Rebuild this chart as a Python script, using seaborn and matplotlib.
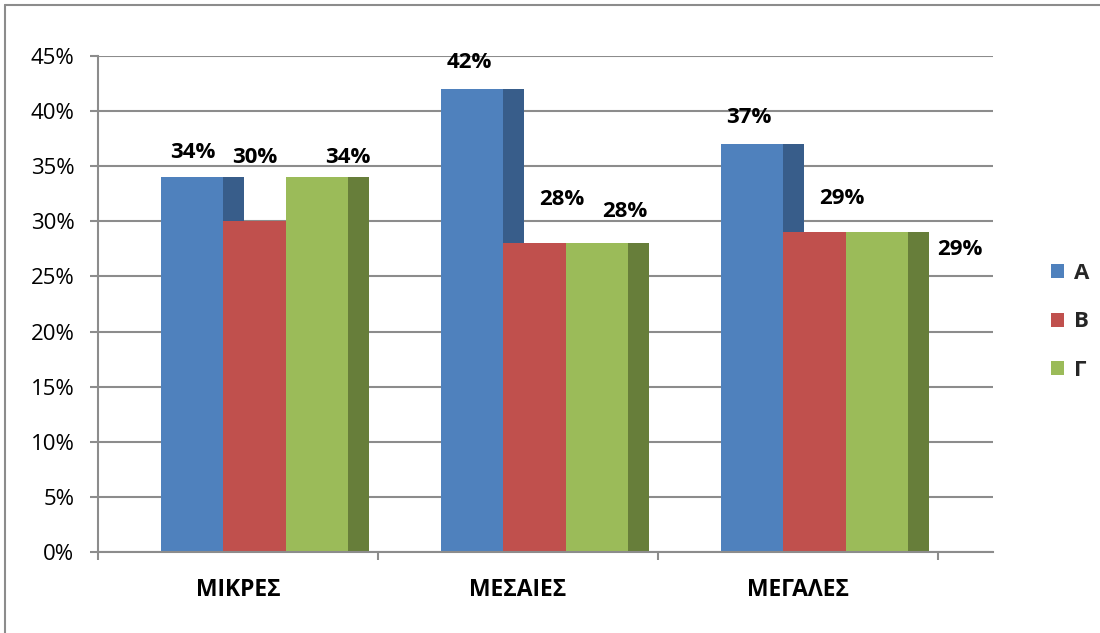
import matplotlib
matplotlib.use("Agg")
import matplotlib.pyplot as plt
from matplotlib.patches import Rectangle
from matplotlib.lines import Line2D
import numpy as np
import pandas as pd
import seaborn as sns

# ---- data -------------------------------------------------------------
categories = ["ΜΙΚΡΕΣ", "ΜΕΣΑΙΕΣ", "ΜΕΓΑΛΕΣ"]
series = ["Α", "Β", "Γ"]
values_a = [34, 42, 37]
values_b = [30, 28, 29]
values_g = [34, 28, 29]
y_ticks = [0, 5, 10, 15, 20, 25, 30, 35, 40, 45]

# ---- styling ----------------------------------------------------------
front_colors = ["#4F81BD", "#C0504D", "#9BBB59"]
side_colors = ["#385D8A", "#8C3836", "#677E3A"]
grid_grey = "#8C8C8C"

# label offsets (pixels) from the top-centre of each bar, per series
label_dx = [[1, -3, -3], [0, 27, 27], [31, 28, 83]]
label_dy = [[25, 27, 27], [64, 44, 34], [20, 32, -17]]

sns.set_theme(style="white")
plt.rcParams["font.family"] = ["Open Sans", "DejaVu Sans"]

df = pd.DataFrame({
    "size": categories * 3,
    "group": [series[0]] * 3 + [series[1]] * 3 + [series[2]] * 3,
    "pct": values_a + values_b + values_g,
})

W, H, DPI = 1100, 633, 100
fig = plt.figure(figsize=(W / DPI, H / DPI), dpi=DPI)
ax = fig.add_axes([98 / W, 81 / H, (993 - 98) / W, (552 - 56) / H])

bar_width = 0.668
depth = 0.075

sns.barplot(data=df, x="size", y="pct", hue="group", hue_order=series,
            order=categories, palette=front_colors, width=bar_width,
            saturation=1, linewidth=0, ax=ax, zorder=3)

# darker side faces behind each bar's front
for k, cont in enumerate(ax.containers):
    for bar in cont:
        x0 = bar.get_x() + bar.get_width()
        ax.add_patch(Rectangle((x0, 0), depth, bar.get_height(),
                               facecolor=side_colors[k], edgecolor="none",
                               zorder=2))

# value labels
for k, cont in enumerate(ax.containers):
    for j, bar in enumerate(cont):
        v = bar.get_height()
        ax.annotate(f"{v:.0f}%",
                    (bar.get_x() + bar.get_width() / 2, v),
                    xytext=(label_dx[k][j], label_dy[k][j]),
                    textcoords="offset pixels", ha="center", va="center",
                    fontsize=16, fontweight="bold", color="black",
                    annotation_clip=False, zorder=5)

# axes limits / ticks
shift = 0.059
ax.set_xlim(-0.5 - shift, 2.6375)
ax.set_ylim(0, 45)
ax.set_yticks(y_ticks)
ax.set_yticklabels([f"{t}%" for t in y_ticks])

bounds = [i - 0.5 - shift for i in range(len(categories) + 1)]
ax.set_xticks(bounds)
ax.set_xticklabels([""] * len(bounds))
ax.set_xticks([i - shift for i in range(len(categories))], minor=True)
ax.set_xticklabels(categories, minor=True, fontsize=16.5, fontweight="bold")

ax.tick_params(axis="y", which="major", direction="out", length=6,
               width=1.5, color=grid_grey, pad=11, labelsize=16,
               left=True, labelcolor="black")
ax.tick_params(axis="x", which="major", direction="out", length=6,
               width=1.5, color=grid_grey, bottom=True)
ax.tick_params(axis="x", which="minor", length=0, pad=19, bottom=True,
               labelcolor="black")

ax.set_xlabel("")
ax.set_ylabel("")
ax.grid(axis="y", color=grid_grey, linewidth=1.5)
ax.grid(axis="x", visible=False)
ax.set_axisbelow(True)

for s in ["top", "right"]:
    ax.spines[s].set_visible(False)
for s in ["left", "bottom"]:
    ax.spines[s].set_color(grid_grey)
    ax.spines[s].set_linewidth(1.5)
    ax.spines[s].set_zorder(4)

# legend at the right
handles, labels = ax.get_legend_handles_labels()
ax.get_legend().remove()
fig.legend(handles, labels, loc="center left",
           bbox_to_anchor=(1040 / W, 1 - 322 / H), frameon=False,
           prop={"size": 16, "weight": "bold"}, handlelength=0.6,
           handleheight=0.6, handletextpad=0.45, labelspacing=1.25,
           borderpad=0)

# chart frame (left and top edges)
fig.add_artist(Line2D([5 / W, 5 / W], [0, 1 - 5 / H], color=grid_grey,
                      linewidth=1.5, transform=fig.transFigure))
fig.add_artist(Line2D([5 / W, 1], [1 - 5 / H, 1 - 5 / H], color=grid_grey,
                      linewidth=1.5, transform=fig.transFigure))

fig.savefig("out.png", dpi=DPI)
